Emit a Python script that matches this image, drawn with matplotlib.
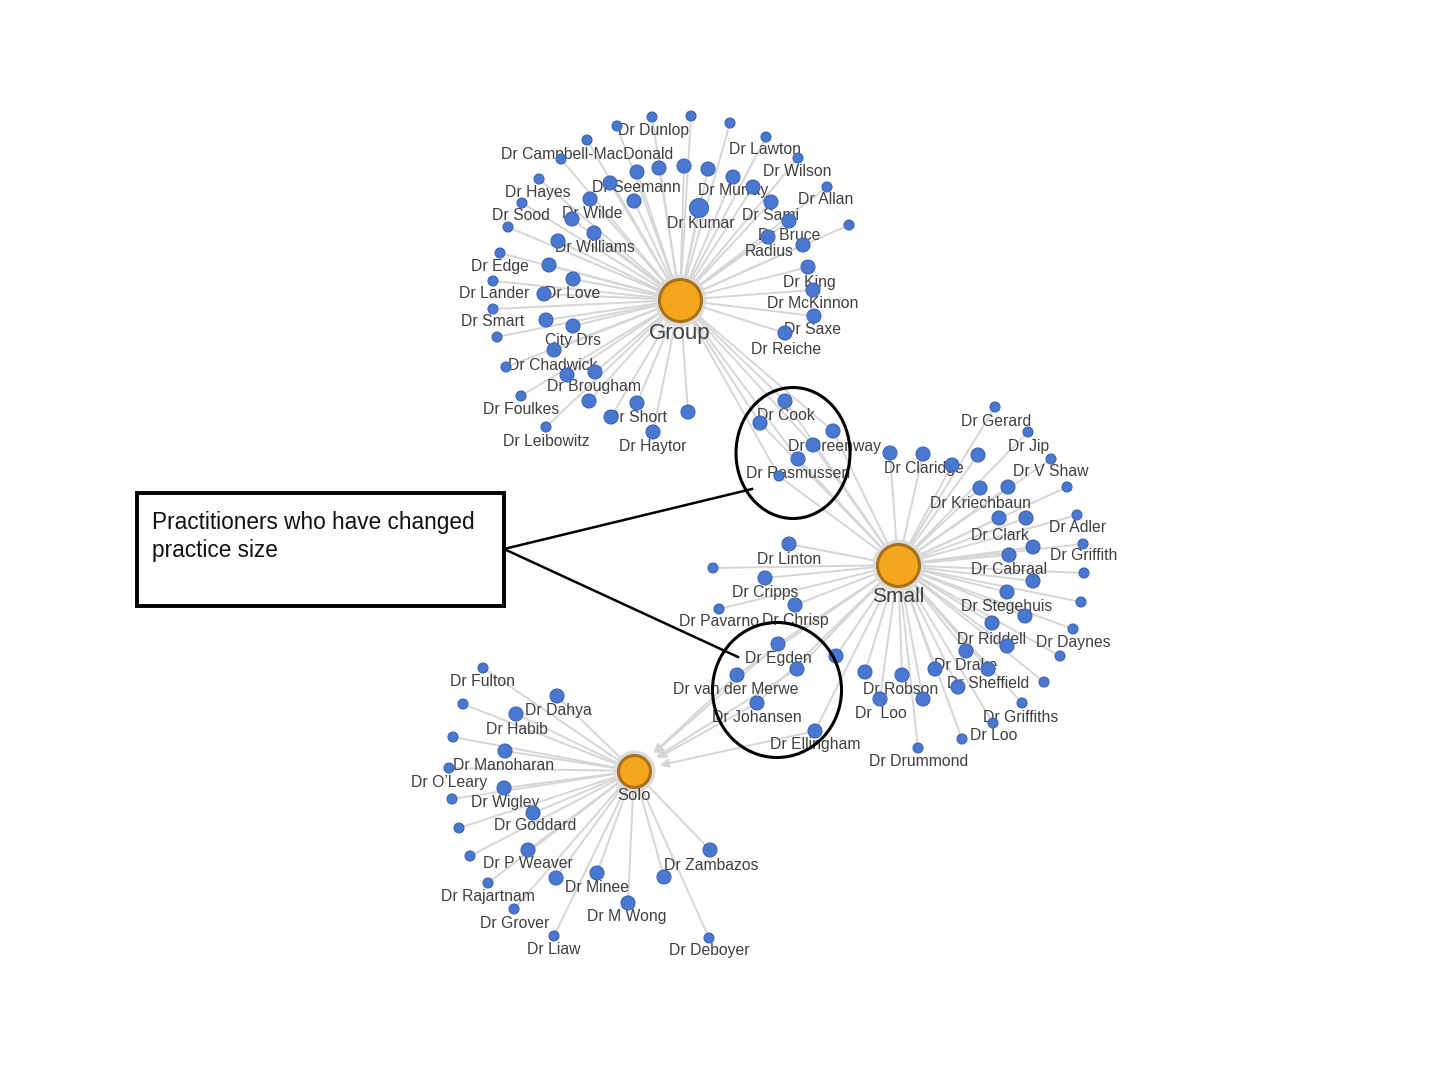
import matplotlib
matplotlib.use('Agg')
import matplotlib.pyplot as plt
from matplotlib.patches import Ellipse, Rectangle

plt.rcParams['font.family'] = ['Liberation Sans', 'DejaVu Sans']

# hubs (practice size)
hub_names = ['Group', 'Small', 'Solo']
hub_x = [680, 898, 634]
hub_y = [300, 565, 771]

# practitioner nodes: position, weight, linked hubs (0=Group,1=Small,2=Solo)
group_x = [652, 691, 730, 617, 766, 587, 561, 798, 637, 659, 684, 708, 733, 539, 610, 753, 827,
           522, 590, 634, 699, 771, 572, 789, 508, 849, 594, 768, 558, 803, 500, 549, 808, 573,
           493, 544, 813, 493, 546, 573, 814, 785, 497, 554, 506, 595, 567, 521, 589, 637, 688,
           611, 546, 653]
group_y = [117, 116, 123, 126, 137, 140, 159, 158, 172, 168, 166, 169, 177, 179, 183, 187, 187,
           203, 199, 201, 208, 202, 219, 221, 227, 225, 233, 237, 241, 245, 253, 265, 267, 279,
           281, 294, 290, 309, 320, 326, 316, 333, 337, 350, 367, 372, 375, 396, 401, 403, 412,
           417, 427, 432]
group_w = [1, 1, 1, 1, 1, 1, 1, 1, 2, 2, 2, 2, 2, 1, 2, 2, 1,
           1, 2, 2, 3, 2, 2, 2, 1, 1, 2, 2, 2, 2, 1, 2, 2, 2,
           1, 2, 2, 1, 2, 2, 2, 2, 1, 2, 1, 2, 2, 1, 2, 2, 2,
           2, 1, 2]

small_x = [995, 1028, 890, 923, 978, 952, 1051, 980, 1008, 1067, 999, 1026, 1077, 1033, 1009,
           1083, 1084, 1033, 1007, 789, 765, 713, 795, 719, 1081, 992, 1025, 1073, 836, 1007,
           966, 1060, 865, 902, 935, 988, 958, 1044, 880, 923, 1022, 993, 962, 918]
small_y = [407, 432, 453, 454, 455, 465, 459, 488, 487, 487, 518, 518, 515, 547, 555,
           544, 573, 581, 592, 544, 578, 568, 605, 609, 602, 623, 616, 629, 656, 646,
           651, 656, 672, 675, 669, 669, 687, 682, 699, 699, 703, 723, 739, 748]
small_w = [1, 1, 2, 2, 2, 2, 1, 2, 2, 1, 2, 2, 1, 2, 2,
           1, 1, 2, 2, 2, 2, 1, 2, 1, 1, 2, 2, 1, 2, 2,
           2, 1, 2, 2, 2, 2, 2, 1, 2, 2, 1, 1, 1, 1]

solo_x = [483, 557, 463, 516, 453, 505, 449, 504, 452, 533, 459, 528, 470, 710, 597, 556, 664,
          488, 628, 514, 554, 709]
solo_y = [668, 696, 704, 714, 737, 751, 768, 788, 799, 813, 828, 850, 856, 850, 873, 878, 877,
          883, 903, 909, 936, 938]
solo_w = [1, 2, 1, 2, 1, 2, 1, 2, 1, 2, 1, 2, 1, 2, 2, 2, 2,
          1, 2, 1, 1, 1]

# practitioners who moved between group and small
moved_gs_x = [785, 760, 833, 813, 798, 779]
moved_gs_y = [401, 423, 431, 445, 459, 476]
moved_gs_w = [2, 2, 2, 2, 2, 1]

# practitioners who moved between small and solo
moved_ss_x = [778, 737, 797, 757, 815]
moved_ss_y = [644, 675, 669, 703, 731]
moved_ss_w = [2, 2, 2, 2, 2]

# name labels
label_text = ['Dr Dunlop', 'Dr Campbell-MacDonald', 'Dr Lawton', 'Dr Wilson', 'Dr Hayes',
              'Dr Seemann', 'Dr Murray', 'Dr Allan', 'Dr Sood', 'Dr Wilde', 'Dr Kumar',
              'Dr Sami', 'Dr Bruce', 'Radius', 'Dr Williams', 'Dr Edge', 'Dr King',
              'Dr Lander', 'Dr Love', 'Dr McKinnon', 'Dr Smart', 'Dr Saxe', 'City Drs',
              'Dr Reiche', 'Dr Chadwick', 'Dr Brougham', 'Dr Foulkes', 'Dr Short',
              'Dr Leibowitz', 'Dr Haytor', 'Dr Cook', 'Dr Greenway', 'Dr Rasmussen',
              'Dr Gerard', 'Dr Jip', 'Dr Claridge', 'Dr V Shaw', 'Dr Kriechbaun', 'Dr Adler',
              'Dr Clark', 'Dr Griffith', 'Dr Linton', 'Dr Cabraal', 'Dr Cripps',
              'Dr Stegehuis', 'Dr Pavarno', 'Dr Chrisp', 'Dr Riddell', 'Dr Daynes',
              'Dr Egden', 'Dr Drake', 'Dr Sheffield', 'Dr van der Merwe', 'Dr Robson',
              'Dr Johansen', 'Dr  Loo', 'Dr Griffiths', 'Dr Loo', 'Dr Ellingham',
              'Dr Drummond', 'Dr Fulton', 'Dr Dahya', 'Dr Habib', 'Dr Manoharan',
              'Dr O\u2019Leary', 'Dr Wigley', 'Dr Goddard', 'Dr P Weaver', 'Dr Zambazos',
              'Dr Minee', 'Dr Rajartnam', 'Dr M Wong', 'Dr Grover', 'Dr Liaw', 'Dr Deboyer']
label_x = [653, 587, 765, 797, 538, 636, 733, 826, 521, 592, 701, 771, 789, 769, 595, 500, 809,
           494, 573, 813, 493, 813, 573, 786, 553, 594, 521, 637, 546, 653, 786, 834, 798,
           996, 1029, 924, 1051, 980, 1078, 1000, 1084, 789, 1009, 765, 1007, 719, 795, 992,
           1073, 778, 966, 988, 736, 901, 757, 881, 1021, 994, 815, 919,
           482, 558, 517, 504, 449, 505, 535, 528, 711, 597, 488, 627, 515, 554, 709]
label_y = [130, 154, 149, 171, 193, 187, 191, 199, 216, 213, 224, 216, 235, 252, 247, 266, 282,
           294, 293, 303, 322, 330, 341, 349, 365, 386, 409, 418, 441, 446, 416, 446, 474,
           421, 446, 469, 472, 503, 528, 535, 556, 559, 570, 592, 606, 622, 620, 639,
           642, 659, 666, 683, 690, 690, 717, 714, 717, 736, 745, 761,
           681, 711, 730, 765, 783, 803, 826, 863, 865, 887, 897, 917, 923, 950, 951]

node_color = '#4a78d0'
node_edge = '#3d66b8'
hub_color = '#f4a71d'
hub_edge = '#a8701a'
edge_color = '#d6d6d6'
text_color = '#3f3f3f'
radius = {1: 5.0, 2: 7.0, 3: 9.5}

fig = plt.figure(figsize=(14.46, 10.78), dpi=100)
ax = fig.add_axes([0, 0, 1, 1])
ax.set_xlim(0, 1446)
ax.set_ylim(1078, 0)
ax.axis('off')


def px2s(r):
    # radius in pixels -> scatter marker area in pt^2
    return (2 * r * 72 / 100.0) ** 2


def draw_edges(xs, ys, hub, arrow=False):
    hx, hy = hub_x[hub], hub_y[hub]
    for x, y in zip(xs, ys):
        if arrow:
            ax.annotate('', xy=(hx, hy), xytext=(x, y),
                        arrowprops=dict(arrowstyle='-|>', color=edge_color, lw=1.4,
                                        mutation_scale=13, shrinkA=0, shrinkB=19),
                        zorder=1)
        else:
            ax.plot([x, hx], [y, hy], color=edge_color, lw=1.4, zorder=1,
                    solid_capstyle='round')


draw_edges(group_x, group_y, 0)
draw_edges(small_x, small_y, 1)
draw_edges(solo_x, solo_y, 2)
draw_edges(moved_gs_x, moved_gs_y, 0)
draw_edges(moved_gs_x, moved_gs_y, 1)
draw_edges(moved_ss_x, moved_ss_y, 1)
draw_edges(moved_ss_x, moved_ss_y, 2, arrow=True)

# labels
for t, x, y in zip(label_text, label_x, label_y):
    ax.text(x, y, t, ha='center', va='center', fontsize=11.3, color=text_color, zorder=2)

# practitioner nodes
all_x = group_x + small_x + solo_x + moved_gs_x + moved_ss_x
all_y = group_y + small_y + solo_y + moved_gs_y + moved_ss_y
all_w = group_w + small_w + solo_w + moved_gs_w + moved_ss_w
ax.scatter(all_x, all_y, s=[px2s(radius[w]) for w in all_w], c=node_color,
           edgecolors=node_edge, linewidths=0.8, zorder=3)

# hubs
hub_r = [21, 21, 16]
hub_fs = [16, 15, 12]
hub_dy = [33, 31, 25]
for i in range(3):
    ax.scatter([hub_x[i]], [hub_y[i]], s=px2s(hub_r[i] + 5), c='#dcdcdc', zorder=3,
               linewidths=0)
    ax.scatter([hub_x[i]], [hub_y[i]], s=px2s(hub_r[i]), c=hub_color,
               edgecolors=hub_edge, linewidths=2.2, zorder=4)
    ax.text(hub_x[i], hub_y[i] + hub_dy[i], hub_names[i], ha='center', va='center',
            fontsize=hub_fs[i], color='#404040', zorder=5)

# callout
ax.add_patch(Ellipse((793, 453), 114, 131, fill=False, ec='black', lw=2.2, zorder=6))
ax.add_patch(Ellipse((777, 690), 129, 135, fill=False, ec='black', lw=2.2, zorder=6))
ax.add_patch(Rectangle((137, 493), 367, 113, fill=False, ec='black', lw=2.8, zorder=6))
ax.plot([504, 752], [549, 489], color='black', lw=1.8, zorder=6)
ax.plot([504, 738], [549, 657], color='black', lw=1.8, zorder=6)
ax.text(152, 522, 'Practitioners who have changed', ha='left', va='center',
        fontsize=16.3, color='#111111', zorder=7)
ax.text(152, 550, 'practice size', ha='left', va='center',
        fontsize=16.3, color='#111111', zorder=7)

fig.savefig('out.png', dpi=100, facecolor='white')
